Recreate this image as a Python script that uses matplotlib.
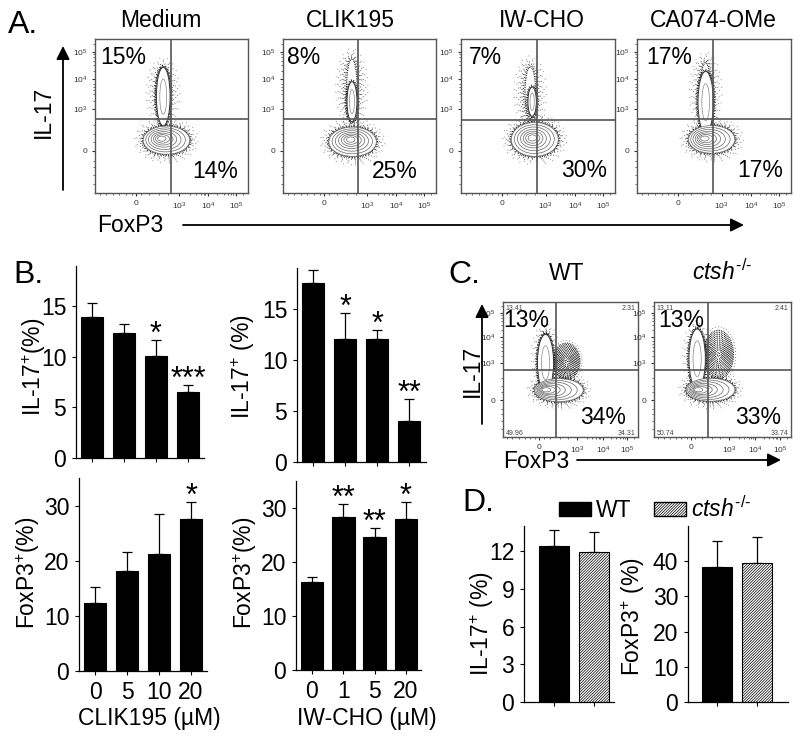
import matplotlib

matplotlib.use('Agg')
import matplotlib.pyplot as plt
from matplotlib.patches import Ellipse, FancyArrowPatch, Patch

plt.rcParams['font.family'] = ['Liberation Sans', 'DejaVu Sans']
plt.rcParams['mathtext.fontset'] = 'custom'
plt.rcParams['mathtext.rm'] = 'Liberation Sans'
plt.rcParams['mathtext.it'] = 'Liberation Sans:italic'
plt.rcParams['mathtext.default'] = 'regular'
plt.rcParams['hatch.linewidth'] = 0.5

W, H = 800, 740
BIG = 23
MID = 16.5
GREY = '#555555'
KO = '$\\mathit{ctsh}^{\\text{-/-}}$'

# flow panels, positions as fractions of the plot range
flow_titles = ['Medium', 'CLIK195', 'IW-CHO', 'CA074-OMe', 'WT', KO]
flow_q1 = ['15%', '8%', '7%', '17%', '13%', '13%']
flow_q4 = ['14%', '25%', '30%', '17%', '34%', '33%']
stalk_x = [0.446, 0.451, 0.462, 0.446, 0.315, 0.315]
stalk_y = [0.626, 0.593, 0.593, 0.590, 0.550, 0.580]
stalk_w = [0.090, 0.065, 0.055, 0.100, 0.120, 0.120]
stalk_h = [0.380, 0.260, 0.190, 0.400, 0.420, 0.440]
blob_x = [0.467, 0.455, 0.479, 0.485, 0.414, 0.413]
blob_y = [0.343, 0.333, 0.348, 0.348, 0.347, 0.350]
blob_w = [0.304, 0.310, 0.305, 0.300, 0.360, 0.355]
blob_h = [0.183, 0.190, 0.220, 0.180, 0.170, 0.170]
peak_x = [0.430, 0.440, 0.460, 0.430, 0.300, 0.305]
peak_y = [0.355, 0.350, 0.360, 0.355, 0.350, 0.350]
cloud_x = [0.445, 0.450, 0.450, 0.445, 0.315, 0.315]
cloud_y = [0.650, 0.680, 0.650, 0.660, 0.600, 0.610]
cloud_w = [0.140, 0.130, 0.130, 0.130, 0.130, 0.130]
cloud_h = [0.380, 0.440, 0.400, 0.430, 0.400, 0.420]
side_x = [0, 0, 0, 0, 0.470, 0.470]
side_y = [0, 0, 0, 0, 0.560, 0.610]
side_w = [0, 0, 0, 0, 0.200, 0.220]
side_h = [0, 0, 0, 0, 0.270, 0.360]
corner_stats = [None, None, None, None,
                ['13.41', '2.31', '49.96', '34.31'],
                ['13.11', '2.41', '50.74', '33.74']]

flow_ticks_y = [0.273, 0.545, 0.740, 0.916]
flow_ticks_x = [0.268, 0.550, 0.739, 0.922]
flow_ticklabels = ['0', '$10^3$', '$10^4$', '$10^5$']
flow_minor_x = [0.03, 0.07, 0.12, 0.16, 0.20, 0.24, 0.30, 0.35, 0.42, 0.48, 0.62, 0.66, 0.69, 0.71, 0.72,
                0.80, 0.84, 0.87, 0.89, 0.90, 0.97]
flow_minor_y = [0.06, 0.12, 0.17, 0.21, 0.33, 0.38, 0.44, 0.60, 0.64, 0.67, 0.69, 0.71, 0.79, 0.83, 0.86,
                0.88, 0.90, 0.97]

# bars
clik_doses = ['0', '5', '10', '20']
iw_doses = ['0', '1', '5', '20']
clik_il17 = [14.0, 12.4, 10.1, 6.5]
clik_il17_err = [1.3, 0.9, 1.6, 0.7]
clik_il17_stars = ['', '', '*', '***']
iw_il17 = [17.5, 12.0, 12.0, 4.0]
iw_il17_err = [1.3, 2.6, 0.95, 2.2]
iw_il17_stars = ['', '*', '*', '**']
clik_foxp3 = [12.4, 18.1, 21.2, 27.5]
clik_foxp3_err = [2.8, 3.5, 7.2, 3.1]
clik_foxp3_stars = ['', '', '', '*']
iw_foxp3 = [16.3, 28.3, 24.7, 27.9]
iw_foxp3_err = [1.0, 2.5, 1.6, 3.2]
iw_foxp3_stars = ['', '**', '**', '*']
ko_il17 = [12.4, 11.9]
ko_il17_err = [1.25, 1.6]
ko_foxp3 = [38.3, 39.5]
ko_foxp3_err = [7.3, 7.3]

fig = plt.figure(figsize=(W / 100, H / 100), dpi=100, facecolor='white')


def axes_px(left, right, top, bottom):
    return fig.add_axes([left / W, 1 - bottom / H, (right - left) / W, (bottom - top) / H])


def put(x, y, s, size=MID, **kw):
    kw.setdefault('va', 'baseline')
    fig.text(x / W, 1 - y / H, s, fontsize=size, color='black', **kw)


def vlabel(x, y, s):
    put(x, y, s, rotation=90, ha='center', va='center')


def arrow(x0, y0, x1, y1):
    fig.add_artist(FancyArrowPatch((x0 / W, 1 - y0 / H), (x1 / W, 1 - y1 / H), transform=fig.transFigure,
                                   arrowstyle='-|>', mutation_scale=20, lw=1.3, color='black',
                                   shrinkA=0, shrinkB=0))


def dot_rings(ax, x, y, w, h, margins):
    # rings of small dots, sparser going outwards, stand in for the event cloud
    for n, m in enumerate(margins):
        gap = 0.8 + 0.8 * n
        ax.add_patch(Ellipse((x, y), w + m, h + m, fill=False, ec='black', lw=0.9,
                             alpha=max(1.0 - 0.1 * n, 0.45), ls=(n * 0.7, (0.6, gap))))


def draw_flow(i, box, cross, q1_pos, q4_pos):
    left, right, top, bottom = box
    ax = axes_px(left, right, top, bottom)
    ax.set_xlim(0, 1)
    ax.set_ylim(0, 1)

    dot_rings(ax, cloud_x[i], cloud_y[i], cloud_w[i], cloud_h[i], [-0.06, -0.04, -0.02, 0, 0.025, 0.05, 0.08])
    dot_rings(ax, stalk_x[i], stalk_y[i], stalk_w[i], stalk_h[i], [0.012, 0.024])
    dot_rings(ax, blob_x[i], blob_y[i], blob_w[i], blob_h[i], [0.005, 0.015, 0.025, 0.04, 0.06, 0.085, 0.11])
    if side_w[i]:
        for step in [0.08, 0.2, 0.28, 0.36, 0.44, 0.52, 0.6, 0.68, 0.76, 0.84, 0.92, 1.0]:
            ax.add_patch(Ellipse((side_x[i], side_y[i]), side_w[i] * step, side_h[i] * step, fill=False,
                                 ec='black', lw=0.9, ls=(step * 3, (0.6, 0.8))))
        ax.add_patch(Ellipse((side_x[i], side_y[i]), side_w[i] * 1.15, side_h[i] * 1.15, fill=False,
                             ec='black', lw=0.6, ls=(0, (0.6, 3.0))))

    ax.add_patch(Ellipse((stalk_x[i], stalk_y[i]), stalk_w[i], stalk_h[i], fc='white', ec='#333333', lw=0.7))
    ax.add_patch(Ellipse((stalk_x[i], stalk_y[i]), stalk_w[i] * 0.5, stalk_h[i] * 0.6, fc='white', ec='#888888',
                         lw=0.5))
    for k in [1.0, 0.85, 0.7, 0.55, 0.42, 0.3, 0.18]:
        cx = peak_x[i] + (blob_x[i] - peak_x[i]) * k
        cy = peak_y[i] + (blob_y[i] - peak_y[i]) * k
        ax.add_patch(Ellipse((cx, cy), blob_w[i] * k, blob_h[i] * k, fc='white', ec='#666666', lw=0.5))

    ax.axvline((cross[0] - left) / (right - left), color=GREY, lw=1.2)
    ax.axhline((bottom - cross[1]) / (bottom - top), color=GREY, lw=1.2)

    for side in ax.spines.values():
        side.set_color(GREY)
        side.set_linewidth(1.0)
    ax.set_xticks(flow_ticks_x)
    ax.set_xticklabels(flow_ticklabels, fontsize=6, color='#333333')
    ax.set_yticks(flow_ticks_y)
    ax.set_yticklabels(flow_ticklabels, fontsize=6, color='#333333')
    ax.set_xticks(flow_minor_x, minor=True)
    ax.set_yticks(flow_minor_y, minor=True)
    ax.tick_params(which='major', length=2.2, width=0.8, pad=3, color='#333333')
    ax.tick_params(which='minor', length=1.2, width=0.5, color='#333333')

    if corner_stats[i]:
        stats = corner_stats[i]
        ax.text(0.02, 0.975, stats[0], fontsize=5, color='#444444', va='top')
        ax.text(0.98, 0.975, stats[1], fontsize=5, color='#444444', va='top', ha='right')
        ax.text(0.02, 0.015, stats[2], fontsize=5, color='#444444')
        ax.text(0.98, 0.015, stats[3], fontsize=5, color='#444444', ha='right')

    put(q1_pos[0], q1_pos[1], flow_q1[i])
    put(q4_pos[0], q4_pos[1], flow_q4[i])


def draw_bars(box, centers, values, errs, ylim, yticks, labels=None, stars=None, hatched=False, width_px=22.5):
    left, right, top, bottom = box
    ax = axes_px(left, right, top, bottom)
    step = centers[1] - centers[0]
    ax.set_xlim((left - centers[0]) / step, (right - centers[0]) / step)
    ax.set_ylim(0, ylim)
    pos = list(range(len(values)))
    bars = ax.bar(pos, values, width=width_px / step, color='black', edgecolor='black', lw=0.8, zorder=2)
    if hatched:
        bars[1].set_facecolor('white')
        bars[1].set_hatch('////////////')
    ax.errorbar(pos, values, yerr=[[0] * len(errs), errs], fmt='none', ecolor='black', elinewidth=0.9,
                capsize=3.6, capthick=0.9, zorder=1)
    for side in ['top', 'right']:
        ax.spines[side].set_visible(False)
    for side in ['left', 'bottom']:
        ax.spines[side].set_linewidth(0.9)
    ax.set_xticks(pos)
    ax.set_xticklabels(labels if labels else [''] * len(pos), fontsize=MID)
    ax.set_yticks(yticks)
    ax.set_yticklabels([str(v) for v in yticks], fontsize=MID)
    ax.tick_params(length=3, width=0.8, pad=4)
    ax.tick_params(axis='x', pad=4)
    ax.patch.set_alpha(0)
    if stars:
        for x, v, e, s in zip(pos, values, errs, stars):
            if s:
                ax.annotate(s, (x, v + e), xytext=(0, -2), textcoords='offset points', ha='center',
                            va='baseline', fontsize=22, annotation_clip=False)
    return ax


# panel A
put(8, 33, 'A.', size=BIG)
top_boxes = [(95, 248, 39, 193), (283, 436, 39, 193), (461, 615, 39, 193), (637, 791, 39, 193)]
top_cross = [(171, 119), (358, 119), (537, 120), (713, 119)]
top_q1 = [(100, 64), (287, 64), (469, 64), (646, 64)]
top_q4 = [(192, 178), (372, 178), (561, 177), (737, 177)]
top_title_x = [161, 350, 542, 713]
for i in range(4):
    draw_flow(i, top_boxes[i], top_cross[i], top_q1[i], top_q4[i])
    put(top_title_x[i], 27, flow_titles[i], ha='center')
vlabel(43, 112, 'IL-17')
arrow(63, 190, 63, 46)
put(97, 232, 'FoxP3')
arrow(183, 225, 744, 225)

# panel C
put(448, 283, 'C.', size=BIG)
mid_boxes = [(503, 638, 302, 437), (654, 791, 302, 437)]
mid_cross = [(556, 370), (708, 370)]
mid_q1 = [(503, 327), (658, 327)]
mid_q4 = [(580, 424), (735, 424)]
mid_title_x = [567, 722]
for n in range(2):
    draw_flow(4 + n, mid_boxes[n], mid_cross[n], mid_q1[n], mid_q4[n])
    put(mid_title_x[n], 280, flow_titles[4 + n], ha='center')
vlabel(472, 371, 'IL-17')
arrow(482, 424, 482, 304)
put(503, 468, 'FoxP3')
arrow(577, 460, 781, 460)

# panel B
put(13, 283, 'B.', size=BIG)
draw_bars((76, 204, 266, 458), [92, 124, 156, 188], clik_il17, clik_il17_err, 19, [0, 5, 10, 15],
          stars=clik_il17_stars)
draw_bars((297, 426, 268, 462), [313, 345, 377, 409], iw_il17, iw_il17_err, 19, [0, 5, 10, 15],
          stars=iw_il17_stars)
draw_bars((79, 207, 478, 671), [95, 127, 159, 191], clik_foxp3, clik_foxp3_err, 35, [0, 10, 20, 30],
          labels=clik_doses, stars=clik_foxp3_stars)
draw_bars((296, 421, 481, 670), [312, 343.3, 374.7, 406], iw_foxp3, iw_foxp3_err, 35, [0, 10, 20, 30],
          labels=iw_doses, stars=iw_foxp3_stars)
vlabel(34, 367, 'IL-17$^{+}$(%)')
vlabel(243, 367, 'IL-17$^{+}$ (%)')
vlabel(28, 573, 'FoxP3$^{+}$(%)')
vlabel(245, 573, 'FoxP3$^{+}$(%)')
put(149, 725, 'CLIK195 (µM)', ha='center')
put(367, 725, 'IW-CHO (µM)', ha='center')

# panel D
put(462, 511, 'D.', size=BIG)
draw_bars((524, 614, 526, 702), [553.7, 593.7], ko_il17, ko_il17_err, 14, [0, 3, 6, 9, 12], hatched=True,
          width_px=30)
draw_bars((688, 788, 526, 702), [717, 757], ko_foxp3, ko_foxp3_err, 50, [0, 10, 20, 30, 40], hatched=True,
          width_px=30)
vlabel(482, 624, 'IL-17$^{+}$ (%)')
vlabel(633, 617, 'FoxP3$^{+}$ (%)')

handles = [Patch(fc='black', ec='black'), Patch(fc='white', ec='black', hatch='////////////')]
fig.legend(handles, ['WT', KO], ncol=2, frameon=False, fontsize=MID, loc='center left',
           bbox_to_anchor=(559 / W, 1 - 509 / H), handlelength=1.4, handleheight=0.55, handletextpad=0.2,
           columnspacing=1.0, borderpad=0, borderaxespad=0)

fig.savefig('out.png', dpi=100)
plt.close(fig)
